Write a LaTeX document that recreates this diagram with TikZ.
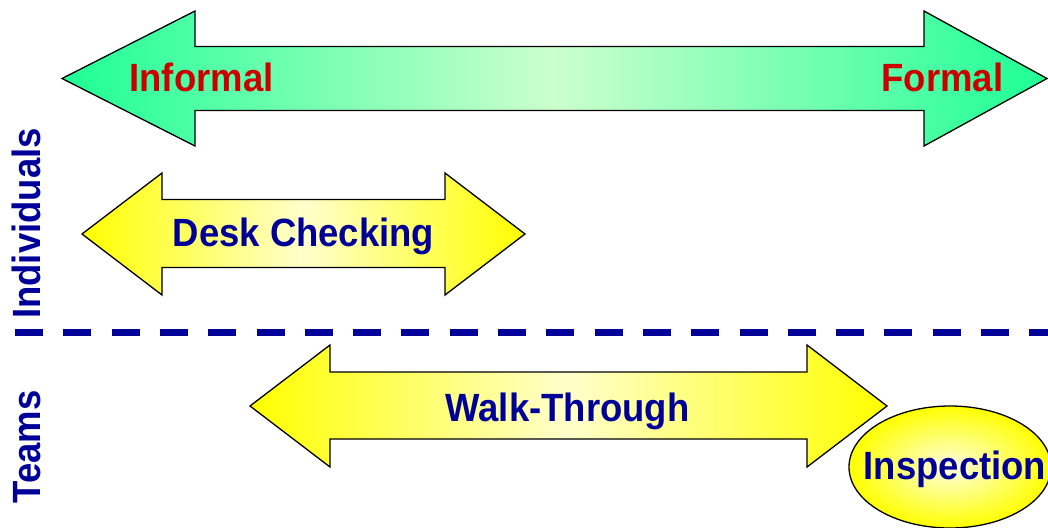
\documentclass[tikz,border=0pt]{standalone}
\usepackage{fontspec}
\setmainfont{Liberation Sans}
\definecolor{txtred}{HTML}{CC0000}
\definecolor{txtblue}{HTML}{000099}
\definecolor{gend}{HTML}{1EFF96}
\definecolor{gmid}{HTML}{CCFFCC}
\definecolor{yend}{HTML}{FFFF00}
\definecolor{ymid}{HTML}{FFFFCC}
\newcommand{\tallbold}[1]{\scalebox{1}[1.08]{#1}}
\tikzset{
  arrowshape/.style={draw=black, line width=1.3pt, line join=miter},
  greenfill/.style={left color=gend, right color=gend, middle color=gmid},
  yellowfill/.style={left color=yend, right color=yend, middle color=ymid},
  bigtext/.style={font=\fontsize{36.5}{44}\selectfont\bfseries, inner sep=0pt},
  redtext/.style={bigtext, text=txtred, anchor=base},
  bluetext/.style={bigtext, text=txtblue, anchor=base},
  divider/.style={draw=txtblue, line width=6.3pt, dash pattern=on 28pt off 20.3pt}
}
% #1 left tip x, #2 left head base x, #3 right head base x, #4 right tip x,
% #5 head top y, #6 head bottom y, #7 shaft top y, #8 shaft bottom y
\newcommand{\dblarrowpath}[8]{%
  (#1,{(#5+#6)/2}) -- (#2,#5) -- (#2,#7) -- (#3,#7) -- (#3,#5) -- (#4,{(#5+#6)/2})
  -- (#3,#6) -- (#3,#8) -- (#2,#8) -- (#2,#6) -- cycle}
\begin{document}
\begin{tikzpicture}[x=1pt,y=-1pt]
\useasboundingbox (0,0) rectangle (1048,527);
\clip (0,0) rectangle (1048,527);
% top formality arrow
\path[arrowshape, greenfill] \dblarrowpath{62}{195}{924}{1047}{11}{146}{46.5}{110.5};
\node[redtext] (informal) at (201.5,91) {\tallbold{Informal}};
\node[redtext] (formal) at (942.5,91) {\tallbold{Formal}};
% desk checking
\path[arrowshape, yellowfill] \dblarrowpath{82}{162}{445}{525}{173}{295}{199.5}{267.5};
\node[bluetext] (desk) at (303.5,246) {\tallbold{Desk Checking}};
% divider
\coordinate (divL) at (15,332.5);
\coordinate (divR) at (1060,332.5);
\draw[divider] (divL) -- (divR);
% walk-through
\path[arrowshape, yellowfill] \dblarrowpath{250}{330}{807}{887}{345}{467}{372}{439};
\node[bluetext] (walk) at (567.5,421) {\tallbold{Walk-Through}};
% inspection
\path[draw=black, line width=1.3pt, inner color=ymid!60!white, outer color=yend]
  (950,467) ellipse [x radius=101, y radius=61];
\node[bluetext] (insp) at (955,479) {\tallbold{Inspection}};
% side labels
\node[bluetext, rotate=90] (indiv) at (40,223.5) {\tallbold{Individuals}};
\node[bluetext, rotate=90] (teams) at (40.5,447) {\tallbold{Teams}};
\end{tikzpicture}
\end{document}
